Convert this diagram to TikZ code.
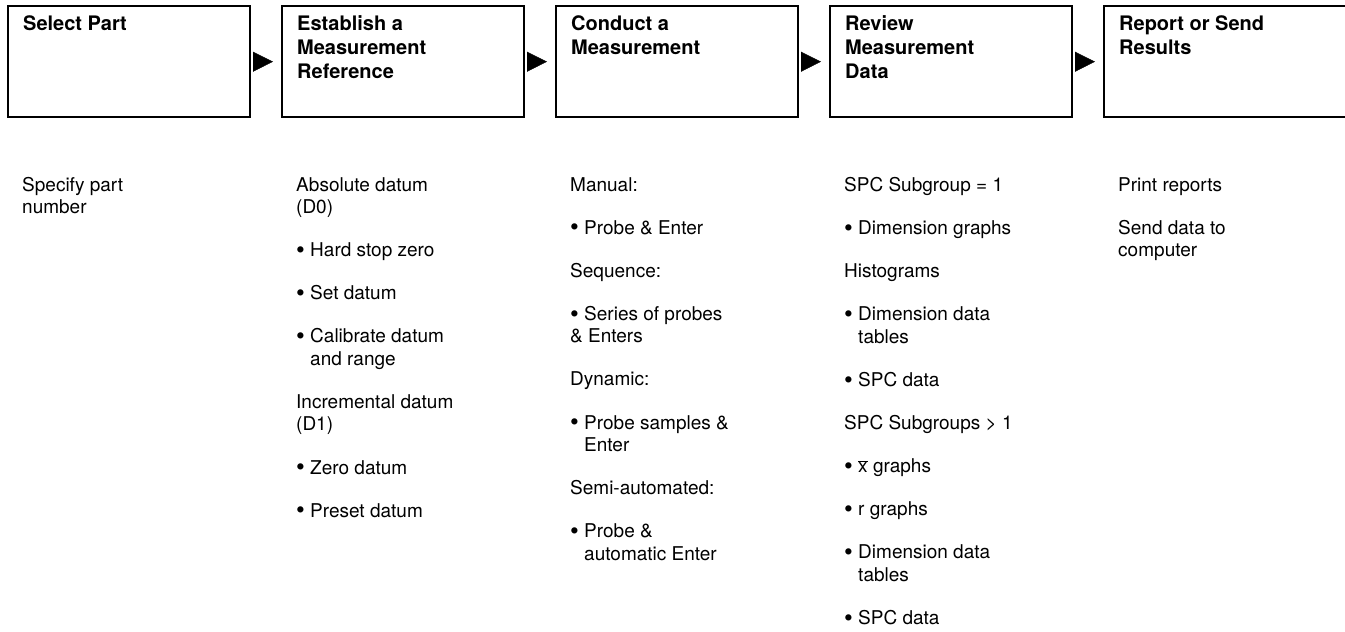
\documentclass[tikz,border=0pt]{standalone}
\usepackage{fontspec}
\setmainfont{TeX Gyre Heros}
\usetikzlibrary{arrows.meta,positioning}
\newcommand{\nextitem}{\\[20.6pt]}
\newcommand{\bul}{\raisebox{-1.8pt}{\fontsize{25}{22.5}\selectfont\textbullet}\ }
\newcommand{\ind}{\hphantom{\bul}}

\begin{document}
\begin{tikzpicture}[x=1pt, y=-1pt,
    stepbox/.style={draw, line width=2.4pt, minimum width=242pt, minimum height=111pt, anchor=north west, inner sep=0pt},
    steptitle/.style={anchor=north west, align=left, inner sep=0pt, font=\bfseries\fontsize{20}{24}\selectfont},
    notes/.style={anchor=north west, align=left, inner sep=0pt, font=\fontsize{19}{22.5}\selectfont},
    flow/.style={-{Triangle[length=20pt,width=20pt]}, shorten <=4pt, shorten >=8pt}]
  \useasboundingbox (0,0) rectangle (1345,632);
  % process steps
  \node[stepbox] (select) at (7,5) {};
  \node[stepbox] (establish) at (281,5) {};
  \node[stepbox] (conduct) at (555,5) {};
  \node[stepbox] (review) at (829,5) {};
  \node[stepbox] (report) at (1103,5) {};
  \node[steptitle] (selectT) at ([shift={(16,10)}]select.north west) {Select Part};
  \node[steptitle] (establishT) at ([shift={(16,10)}]establish.north west) {Establish a\\Measurement\\Reference};
  \node[steptitle] (conductT) at ([shift={(16,10)}]conduct.north west) {Conduct a\\Measurement};
  \node[steptitle] (reviewT) at ([shift={(16,10)}]review.north west) {Review\\Measurement\\Data};
  \node[steptitle] (reportT) at ([shift={(16,10)}]report.north west) {Report or Send\\Results};
  % arrows between steps
  \draw[flow] (select.east) -- (establish.west);
  \draw[flow] (establish.east) -- (conduct.west);
  \draw[flow] (conduct.east) -- (review.west);
  \draw[flow] (review.east) -- (report.west);
  % notes below each step
  \node[notes] (selectN) at (22,177) {Specify part\\number};
  \node[notes] (establishN) at (296,177) {Absolute datum\\(D0)\nextitem
    \bul Hard stop zero\nextitem
    \bul Set datum\nextitem
    \bul Calibrate datum\\\ind and range\nextitem
    Incremental datum\\(D1)\nextitem
    \bul Zero datum\nextitem
    \bul Preset datum};
  \node[notes] (conductN) at (570,177) {Manual:\nextitem
    \bul Probe \& Enter\nextitem
    Sequence:\nextitem
    \bul Series of probes\\\& Enters\nextitem
    Dynamic:\nextitem
    \bul Probe samples \&\\\ind Enter\nextitem
    Semi-automated:\nextitem
    \bul Probe \&\\\ind automatic Enter};
  \node[notes] (reviewN) at (844,177) {SPC Subgroup = 1\nextitem
    \bul Dimension graphs\nextitem
    Histograms\nextitem
    \bul Dimension data\\\ind tables\nextitem
    \bul SPC data\nextitem
    SPC Subgroups > 1\nextitem
    \bul $\overline{\mbox{x}}$ graphs\nextitem
    \bul r graphs\nextitem
    \bul Dimension data\\\ind tables\nextitem
    \bul SPC data};
  \node[notes] (reportN) at (1118,177) {Print reports\nextitem
    Send data to\\computer};
\end{tikzpicture}
\end{document}
